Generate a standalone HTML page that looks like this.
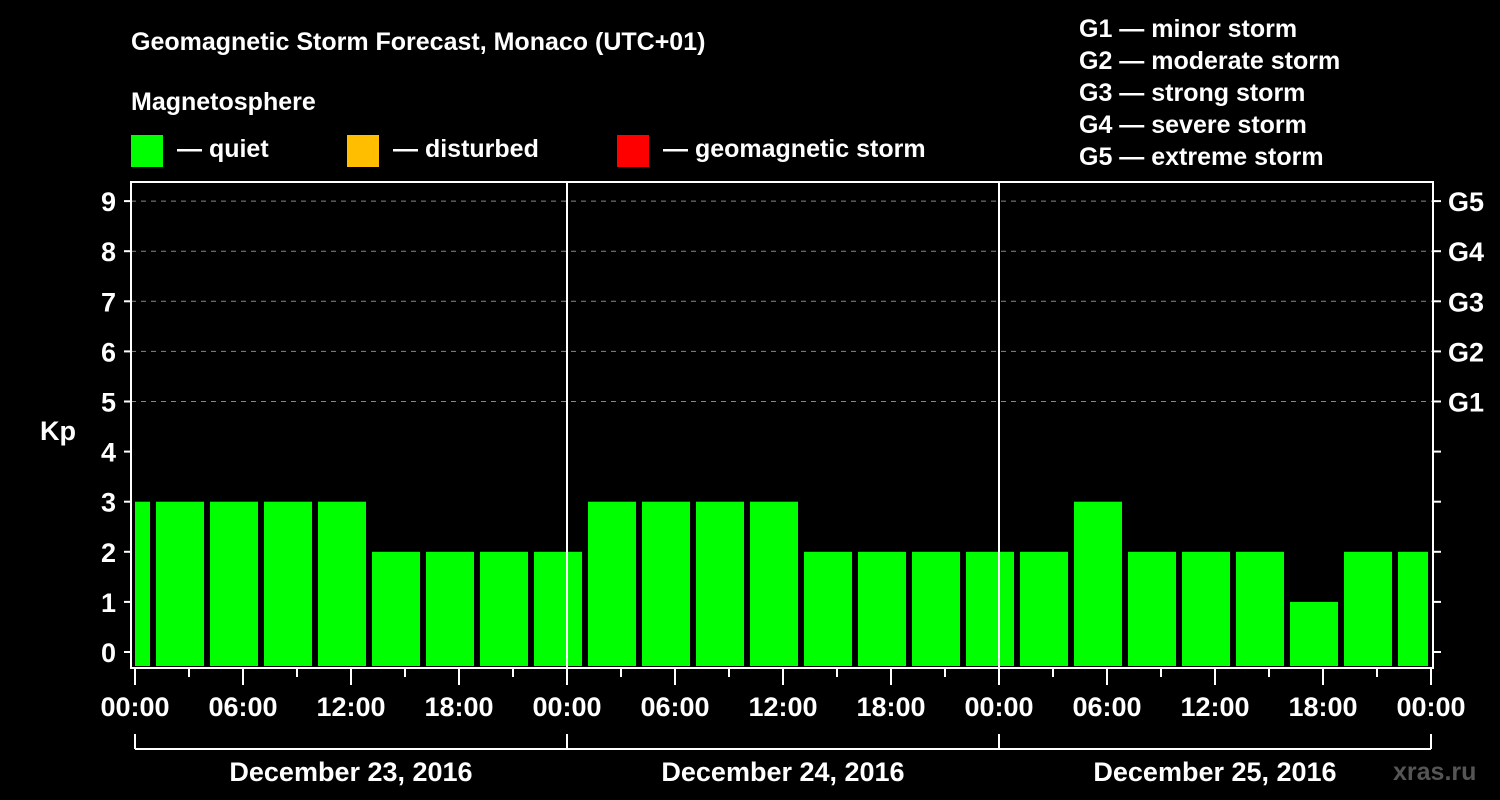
<!DOCTYPE html>
<html><head><meta charset="utf-8"><style>
body{margin:0;background:#000;width:1500px;height:800px;overflow:hidden}
svg{display:block;font-family:"Liberation Sans",Arial,sans-serif;font-weight:bold;fill:#fff}
</style></head><body>
<svg id="chart" width="1500" height="800" viewBox="0 0 1500 800" xmlns="http://www.w3.org/2000/svg">
<rect width="1500" height="800" fill="#000"/>
<text x="131" y="50" font-size="25">Geomagnetic Storm Forecast, Monaco (UTC+01)</text>
<text x="131" y="110" font-size="25">Magnetosphere</text>
<g><rect x="131" y="135" width="32" height="32" fill="#00ff00"/><text x="177" y="157" font-size="25">— quiet</text></g>
<g><rect x="347" y="135" width="32" height="32" fill="#ffbf00"/><text x="393" y="157" font-size="25">— disturbed</text></g>
<g><rect x="617" y="135" width="32" height="32" fill="#ff0000"/><text x="663" y="157" font-size="25">— geomagnetic storm</text></g>
<g font-size="25">
<text x="1079" y="37">G1 — minor storm</text>
<text x="1079" y="69">G2 — moderate storm</text>
<text x="1079" y="101">G3 — strong storm</text>
<text x="1079" y="133">G4 — severe storm</text>
<text x="1079" y="165">G5 — extreme storm</text>
</g>
<text x="40" y="440" font-size="27">Kp</text>
<g id="grid"></g><g id="bars"></g><g id="axes"></g>
<text x="1393" y="780" font-size="25" fill="#555" style="fill:#555">xras.ru</text>
</svg>
<script>
const kpValues=[3,3,3,3,3,2,2,2,2,3,3,3,3,2,2,2,2,2,3,2,2,2,1,2,2];
const intervalStartHours=[-2,1,4,7,10,13,16,19,22,25,28,31,34,37,40,43,46,49,52,55,58,61,64,67,70];
const yTicks=[0,1,2,3,4,5,6,7,8,9];
const stormLabels=["G1","G2","G3","G4","G5"];
const stormLevels=[5,6,7,8,9];
const xLabels=["00:00","06:00","12:00","18:00","00:00","06:00","12:00","18:00","00:00","06:00","12:00","18:00","00:00"];
const dayLabels=["December 23, 2016","December 24, 2016","December 25, 2016"];
const NS="http://www.w3.org/2000/svg";
const L=131,R=1433,T=182,B=668;
const x=h=>135+18*h, y=v=>652-50.1*v;
function mk(tag,attrs,parent,text){const e=document.createElementNS(NS,tag);for(const k in attrs)e.setAttribute(k,attrs[k]);if(text!==undefined)e.textContent=text;document.getElementById(parent).appendChild(e);return e;}
stormLevels.forEach((v,i)=>{
 const g=mk('line',{x1:L,x2:R,y1:y(v),y2:y(v),stroke:'#888','stroke-dasharray':'5,5','stroke-width':1},'grid');
 
 
 const t=mk('text',{x:1448,y:y(v)+10,'font-size':27},'axes',stormLabels[i]);
 
 
});
kpValues.forEach((v,i)=>{
 const h=intervalStartHours[i];
 const x0=Math.max(x(h)+3,x(0)),x1=Math.min(x(h+3)-3,x(72)-3);
 const c=v>=5?'#ff0000':(v>=4?'#ffbf00':'#00ff00');
 const r=mk('rect',{x:x0,y:y(v),width:x1-x0,height:B-2-y(v),fill:c},'bars');
 
 
});
mk('rect',{x:L,y:T,width:R-L,height:B-T,fill:'none',stroke:'#fff','stroke-width':2},'axes');
[24,48].forEach(h=>{const l=mk('line',{x1:x(h),x2:x(h),y1:T,y2:B,stroke:'#fff','stroke-width':2},'axes');});
yTicks.forEach(v=>{
 mk('line',{x1:124,x2:L,y1:y(v),y2:y(v),stroke:'#fff','stroke-width':2},'axes');
 mk('line',{x1:R,x2:1441,y1:y(v),y2:y(v),stroke:'#fff','stroke-width':2},'axes');
 const t=mk('text',{x:116,y:y(v)+10,'font-size':27,'text-anchor':'end'},'axes',String(v));
 
 
});
for(let h=0;h<=72;h+=3){mk('line',{x1:x(h),x2:x(h),y1:B,y2:h%6===0?685:677,stroke:'#fff','stroke-width':2},'axes');}
xLabels.forEach((s,i)=>{
 const t=mk('text',{x:x(i*6),y:716,'font-size':27,'text-anchor':'middle'},'axes',s);
 
 
});
mk('line',{x1:x(0),x2:x(72),y1:749,y2:749,stroke:'#fff','stroke-width':2},'axes');
[0,24,48,72].forEach(h=>mk('line',{x1:x(h),x2:x(h),y1:734,y2:749,stroke:'#fff','stroke-width':2},'axes'));
dayLabels.forEach((s,i)=>{
 const t=mk('text',{x:x(i*24+12),y:781,'font-size':27,'text-anchor':'middle'},'axes',s);
 
 
});
</script>
</body></html>
